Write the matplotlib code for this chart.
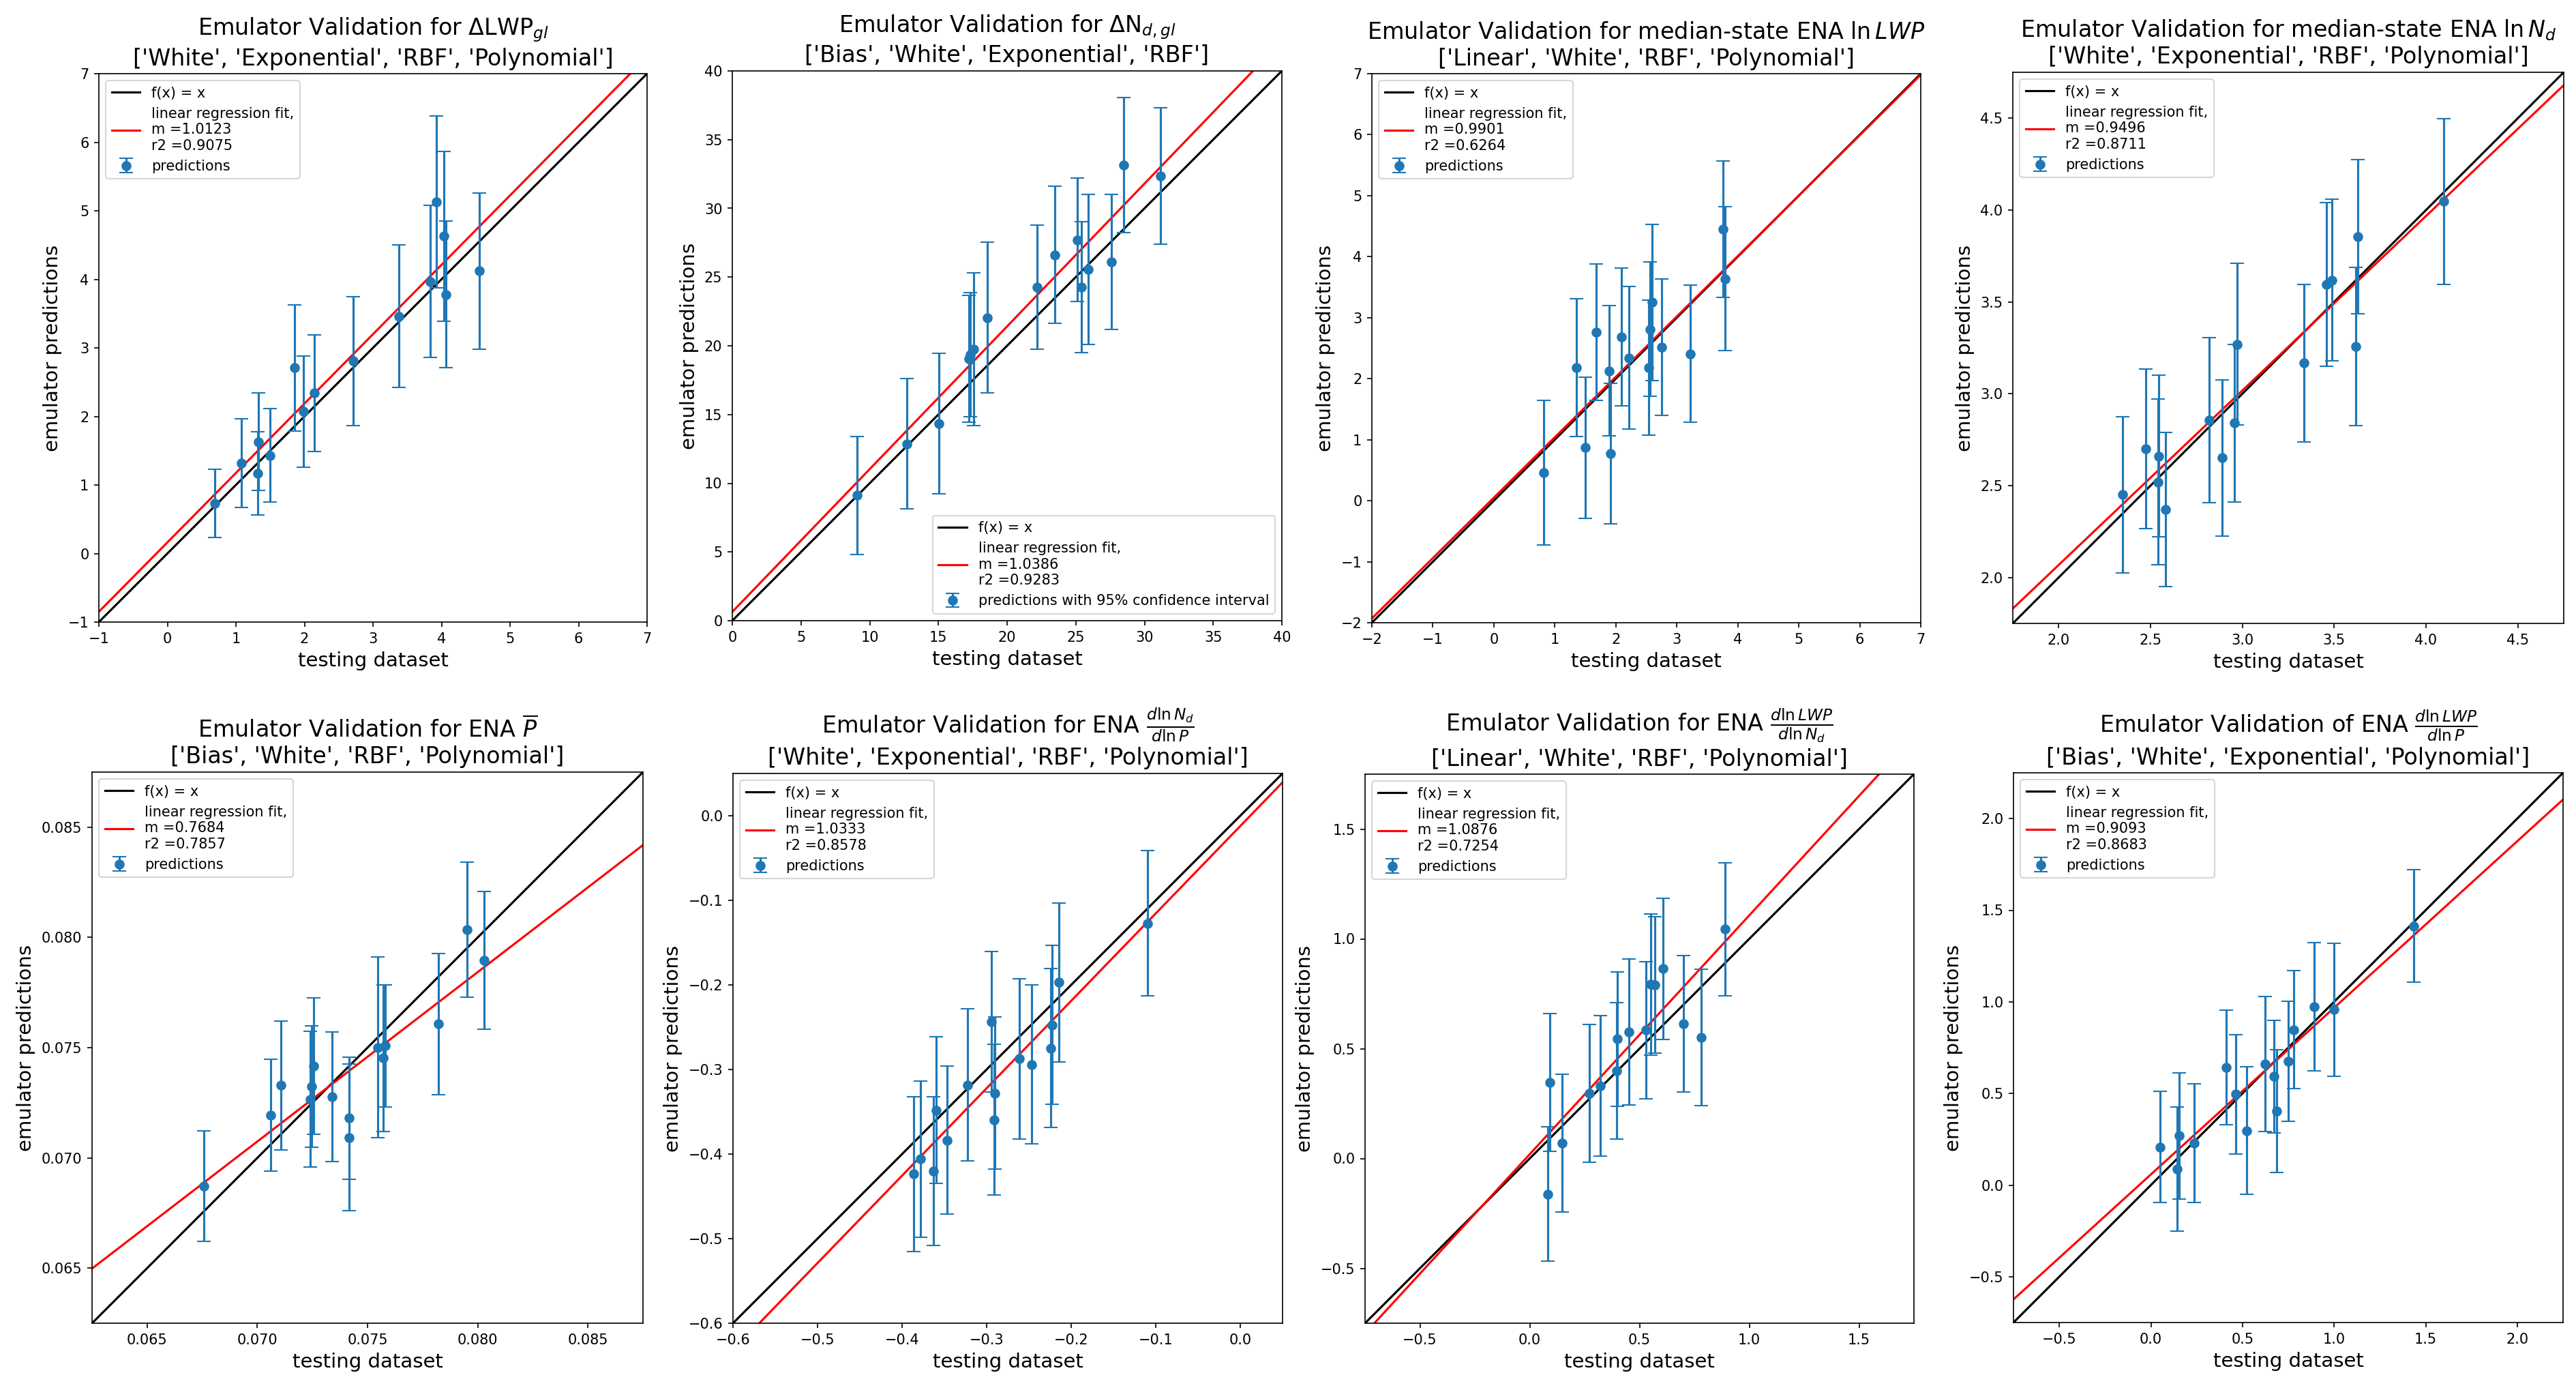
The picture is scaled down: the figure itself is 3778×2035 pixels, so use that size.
import matplotlib
matplotlib.use('Agg')
import matplotlib.pyplot as plt
import numpy as np

# panel 1: delta LWP_gl
x1 = [0.69, 1.08, 1.33, 1.32, 1.50, 1.86, 1.99, 2.14, 2.71, 3.38, 3.84, 3.93, 4.03, 4.06, 4.55]
y1 = [0.73, 1.32, 1.63, 1.17, 1.43, 2.71, 2.07, 2.34, 2.81, 3.46, 3.97, 5.13, 4.63, 3.78, 4.12]
e1 = [0.50, 0.65, 0.71, 0.61, 0.68, 0.92, 0.81, 0.85, 0.94, 1.04, 1.11, 1.25, 1.24, 1.07, 1.14]

# panel 2: delta Nd_gl
x2 = [9.09, 12.68, 15.06, 17.2, 17.3, 17.58, 18.56, 22.2, 23.48, 25.1, 25.4, 25.92, 27.59, 28.47, 31.15]
y2 = [9.11, 12.87, 14.33, 19.05, 19.35, 19.75, 22.04, 24.27, 26.62, 27.71, 24.27, 25.54, 26.11, 33.15, 32.36]
e2 = [4.3, 4.73, 5.1, 4.6, 4.5, 5.55, 5.48, 4.52, 5.0, 4.5, 4.78, 5.46, 4.9, 4.89, 4.96]

# panel 3: median-state ln LWP
x3 = [0.82, 1.35, 1.50, 1.68, 1.89, 1.91, 2.09, 2.22, 2.54, 2.56, 2.59, 2.75, 3.22, 3.76, 3.79]
y3 = [0.46, 2.18, 0.87, 2.76, 2.13, 0.77, 2.68, 2.34, 2.18, 2.81, 3.25, 2.52, 2.41, 4.45, 3.64]
e3 = [1.18, 1.13, 1.16, 1.12, 1.07, 1.15, 1.13, 1.17, 1.11, 1.10, 1.28, 1.12, 1.12, 1.12, 1.18]

# panel 4: median-state ln Nd
x4 = [2.348, 2.475, 2.545, 2.54, 2.58, 2.818, 2.888, 2.957, 2.973, 3.336, 3.459, 3.489, 3.616, 3.63, 4.098]
y4 = [2.45, 2.70, 2.66, 2.52, 2.37, 2.857, 2.651, 2.84, 3.27, 3.167, 3.595, 3.619, 3.258, 3.854, 4.047]
e4 = [0.425, 0.435, 0.44, 0.45, 0.42, 0.45, 0.425, 0.43, 0.44, 0.43, 0.445, 0.44, 0.43, 0.42, 0.45]

# panel 5: ENA P bar
x5 = [0.06758, 0.07062, 0.07107, 0.0724, 0.07245, 0.07255, 0.07339, 0.07417, 0.07417, 0.07546, 0.0757, 0.07581, 0.07823, 0.07952, 0.08029]
y5 = [0.06871, 0.07194, 0.07329, 0.07266, 0.07323, 0.07416, 0.07277, 0.0718, 0.07093, 0.07501, 0.07453, 0.07508, 0.07608, 0.08036, 0.07895]
e5 = [0.0025, 0.00253, 0.00292, 0.00308, 0.00275, 0.0031, 0.00293, 0.00277, 0.00334, 0.0041, 0.00333, 0.00278, 0.0032, 0.00307, 0.00313]

# panel 6: dlnNd/dlnP
x6 = [-0.386, -0.3786, -0.3627, -0.3593, -0.3464, -0.3222, -0.2945, -0.2902, -0.2911, -0.2614, -0.247, -0.2238, -0.2223, -0.2149, -0.1096]
y6 = [-0.4235, -0.406, -0.42, -0.348, -0.3836, -0.3184, -0.2438, -0.328, -0.3594, -0.2874, -0.2943, -0.2748, -0.2475, -0.197, -0.1272]
e6 = [0.0915, 0.092, 0.088, 0.087, 0.0877, 0.09, 0.083, 0.09, 0.089, 0.095, 0.094, 0.094, 0.094, 0.094, 0.0857]

# panel 7: dlnLWP/dlnNd
x7 = [0.0823, 0.0918, 0.147, 0.2707, 0.322, 0.3963, 0.40, 0.4515, 0.5295, 0.5504, 0.5714, 0.6056, 0.6989, 0.7826, 0.8891]
y7 = [-0.1616, 0.347, 0.0694, 0.2964, 0.3308, 0.3997, 0.5436, 0.576, 0.584, 0.7928, 0.7908, 0.8637, 0.6125, 0.5517, 1.0441]
e7 = [0.306, 0.314, 0.314, 0.314, 0.319, 0.31, 0.306, 0.331, 0.313, 0.322, 0.311, 0.321, 0.31, 0.31, 0.303]

# panel 8: dlnLWP/dlnP
x8 = [0.049, 0.1427, 0.1541, 0.2365, 0.4103, 0.4652, 0.5247, 0.6253, 0.6711, 0.6871, 0.7488, 0.7809, 0.8906, 0.9982, 1.435]
y8 = [0.207, 0.088, 0.269, 0.229, 0.642, 0.496, 0.297, 0.661, 0.593, 0.404, 0.676, 0.848, 0.975, 0.958, 1.414]
e8 = [0.303, 0.34, 0.344, 0.325, 0.311, 0.326, 0.348, 0.368, 0.307, 0.336, 0.328, 0.322, 0.35, 0.363, 0.307]

# fit results shown in legends
slopes = [1.0123, 1.0386, 0.9901, 0.9496, 0.7684, 1.0333, 1.0876, 0.9093]
intercepts = [0.162, 0.64, 0.05, 0.169, 0.016955, -0.0122, 0.0194, 0.058]
r2s = [0.9075, 0.9283, 0.6264, 0.8711, 0.7857, 0.8578, 0.7254, 0.8683]

names = [r'Emulator Validation for ΔLWP$_{gl}$',
         r'Emulator Validation for ΔN$_{d,gl}$',
         r'Emulator Validation for median-state ENA $\ln LWP$',
         r'Emulator Validation for median-state ENA $\ln N_d$',
         r'Emulator Validation for ENA $\overline{P}$',
         r'Emulator Validation for ENA $\frac{d\ln N_d}{d\ln P}$',
         r'Emulator Validation for ENA $\frac{d\ln LWP}{d\ln N_d}$',
         r'Emulator Validation of ENA $\frac{d\ln LWP}{d\ln P}$']
kernels = [['White', 'Exponential', 'RBF', 'Polynomial'],
           ['Bias', 'White', 'Exponential', 'RBF'],
           ['Linear', 'White', 'RBF', 'Polynomial'],
           ['White', 'Exponential', 'RBF', 'Polynomial'],
           ['Bias', 'White', 'RBF', 'Polynomial'],
           ['White', 'Exponential', 'RBF', 'Polynomial'],
           ['Linear', 'White', 'RBF', 'Polynomial'],
           ['Bias', 'White', 'Exponential', 'Polynomial']]
lims = [(-1, 7), (0, 40), (-2, 7), (1.75, 4.75), (0.0625, 0.0875), (-0.6, 0.05), (-0.75, 1.75), (-0.75, 2.25)]

xs_all = [x1, x2, x3, x4, x5, x6, x7, x8]
ys_all = [y1, y2, y3, y4, y5, y6, y7, y8]
es_all = [e1, e2, e3, e4, e5, e6, e7, e8]

W, H = 3778, 2035
# axes boxes in pixels: left, right, top, bottom (square axes)
boxes = [(145, 949, 108, 912), (1074, 1880, 104, 910), (2012, 2817, 108, 913), (2952, 3760, 106, 914),
         (135, 943, 1132, 1940), (1075, 1881, 1134, 1940), (2002, 2807, 1135, 1940), (2953, 3759, 1133, 1939)]

fig = plt.figure(figsize=(W / 150, H / 150), dpi=150)

for i in range(8):
    l, r, t, b = boxes[i]
    ax = fig.add_axes([l / W, 1 - b / H, (r - l) / W, (b - t) / H])
    lo, hi = lims[i]
    line = np.array([lo, hi])
    ax.plot(line, line, color='black', label='f(x) = x')
    ax.plot(line, slopes[i] * line + intercepts[i], color='red',
            label='linear regression fit,\nm =%.4f\nr2 =%.4f' % (slopes[i], r2s[i]))
    lab = 'predictions'
    if i == 1:
        lab = 'predictions with 95% confidence interval'
    ax.errorbar(xs_all[i], ys_all[i], yerr=es_all[i], fmt='o', capsize=5, label=lab)
    if i == 1:
        ax.legend(loc='lower right')
    else:
        ax.legend(loc='upper left')
    ax.set_xlim(lo, hi)
    ax.set_ylim(lo, hi)
    ax.set_xlabel('testing dataset', fontsize=14)
    ax.set_ylabel('emulator predictions', fontsize=14)
    ax.set_title(names[i] + '\n' + str(kernels[i]), fontsize=16)

fig.savefig('out.png', dpi=150)
